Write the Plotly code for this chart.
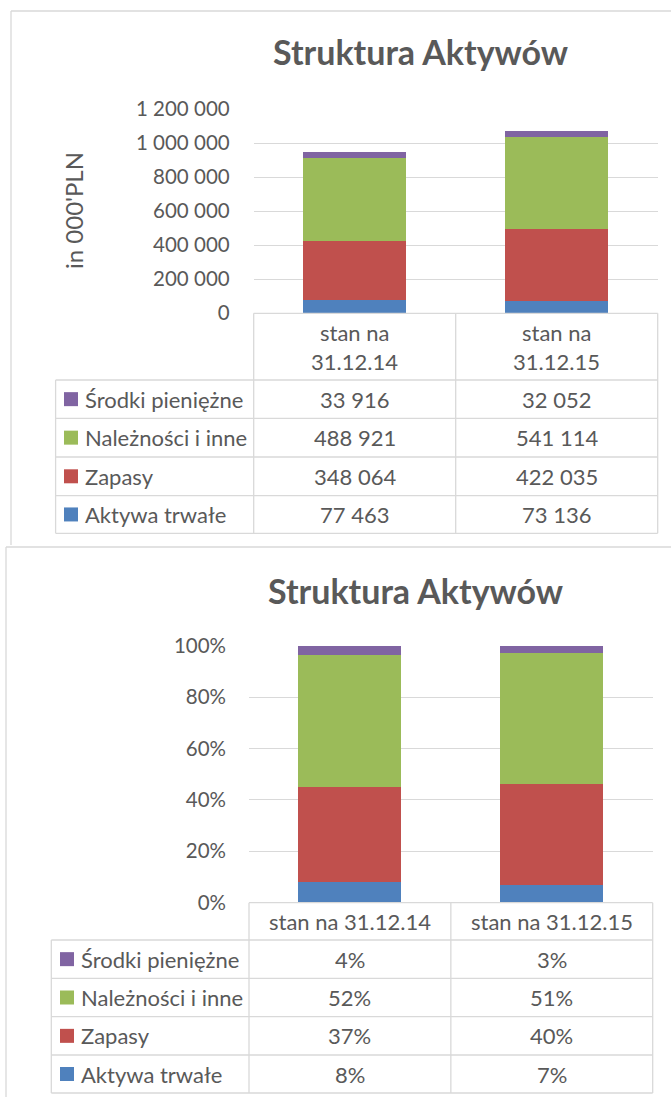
import plotly.graph_objects as go

# ---- data ----
categories = ["stan na 31.12.14", "stan na 31.12.15"]
series_names = ["Aktywa trwałe", "Zapasy", "Należności i inne", "Środki pieniężne"]
aktywa_trwale = [77463, 73136]
zapasy = [348064, 422035]
naleznosci = [488921, 541114]
srodki = [33916, 32052]
y1_ticks = [0, 200000, 400000, 600000, 800000, 1000000, 1200000]
y2_ticks = [0, 20, 40, 60, 80, 100]
title_text = "Struktura Aktywów"
y1_title = "in 000'PLN"

series_values = [aktywa_trwale, zapasy, naleznosci, srodki]
colors = ["#4F81BD", "#C0504D", "#9BBB59", "#8064A2"]

totals = [sum(s[i] for s in series_values) for i in range(len(categories))]
series_pct = [[v / t * 100 for v, t in zip(s, totals)] for s in series_values]


def fmt(v):
    return f"{v:,}".replace(",", " ")


W, H = 671, 1097
FONT = "Lato"
TXT = "#595959"
GRID = "#D9D9D9"


def px(x):
    return x / W


def py(y):
    return 1 - y / H


fig = go.Figure()
for name, vals, col in zip(series_names, series_values, colors):
    fig.add_trace(go.Bar(x=categories, y=vals, name=name, marker=dict(color=col, line=dict(width=0)),
                         xaxis="x", yaxis="y", hoverinfo="skip"))
for name, vals, col in zip(series_names, series_pct, colors):
    fig.add_trace(go.Bar(x=categories, y=vals, name=name, marker=dict(color=col, line=dict(width=0)),
                         xaxis="x2", yaxis="y2", hoverinfo="skip"))

T = dict(x0=253.7, x1=657.7, ytop=109.0, y0=313.3, lab_x0=55.6,
         rows=[380.0, 418.3, 457.0, 495.6, 533.3], sq_x=64, txt_x=83,
         hdr_lines=[332.0, 361.5], title_y=52, title_x=420)
B = dict(x0=249.0, x1=652.7, ytop=645.7, y0=902.7, lab_x0=51.3,
         rows=[940.0, 978.3, 1016.7, 1055.0, 1093.0], sq_x=60, txt_x=79,
         hdr_lines=[921.5], title_y=590, title_x=415)

tickfont = dict(family=FONT, size=20.5, color=TXT)
fig.update_layout(
    template="none",
    width=W, height=H, autosize=False,
    margin=dict(l=0, r=0, t=0, b=0, pad=0),
    paper_bgcolor="white", plot_bgcolor="white",
    showlegend=False, barmode="stack", bargap=0.49,
    font=dict(family=FONT, color=TXT),
    xaxis=dict(domain=[px(T["x0"]), px(T["x1"])], type="category", showticklabels=False, automargin=False,
               showgrid=False, zeroline=False, showline=False, anchor="y", fixedrange=True, ticks=""),
    yaxis=dict(domain=[py(T["y0"]), py(T["ytop"])], range=[0, 1200000], tickvals=y1_ticks, automargin=False,
               ticktext=[fmt(v) for v in y1_ticks], tickfont=tickfont, gridcolor=GRID, gridwidth=1, ticks="",
               zeroline=False, showline=False, anchor="x", ticklabelstandoff=23, fixedrange=True),
    xaxis2=dict(domain=[px(B["x0"]), px(B["x1"])], type="category", showticklabels=False, automargin=False,
                showgrid=False, zeroline=False, showline=False, anchor="y2", fixedrange=True, ticks=""),
    yaxis2=dict(domain=[py(B["y0"]), py(B["ytop"])], range=[0, 100], tickvals=y2_ticks, automargin=False,
                ticktext=[f"{v}%" for v in y2_ticks], tickfont=tickfont, gridcolor=GRID, gridwidth=1, ticks="",
                zeroline=False, showline=False, anchor="x2", ticklabelstandoff=22, fixedrange=True),
)

shapes = []
ann = []


def line(x0, y0, x1, y1, color=GRID, width=1.3):
    shapes.append(dict(type="line", xref="paper", yref="paper", x0=px(x0), y0=py(y0), x1=px(x1), y1=py(y1),
                       line=dict(color=color, width=width), layer="above"))


# outer chart borders
line(11, 11, 671, 11)
line(11, 11, 11, 545)
line(6, 547, 671, 547)
line(6, 547, 6, 1097)


def build_table(G, xref, values_text, two_line_header):
    xm = (G["x0"] + G["x1"]) / 2
    line(G["x0"], G["y0"], G["x1"], G["y0"])
    for xv in (G["x0"], xm, G["x1"]):
        line(xv, G["y0"], xv, G["rows"][-1])
    for yv in G["rows"]:
        line(G["lab_x0"], yv, G["x1"], yv)
    line(G["lab_x0"], G["rows"][0], G["lab_x0"], G["rows"][-1])
    for ci, cat in enumerate(categories):
        parts = [cat[:7], cat[8:]] if two_line_header else [cat]
        for part, yy in zip(parts, G["hdr_lines"]):
            ann.append(dict(text=part, xref=xref, yref="paper", x=cat, y=py(yy), showarrow=False,
                            xanchor="center", yanchor="middle", font=dict(family=FONT, size=22, color=TXT)))
    order = list(range(len(series_names)))[::-1]
    for r, si in enumerate(order):
        yc = (G["rows"][r] + G["rows"][r + 1]) / 2
        shapes.append(dict(type="rect", xref="paper", yref="paper",
                           x0=px(G["sq_x"]), x1=px(G["sq_x"] + 14), y0=py(yc - 7), y1=py(yc + 7),
                           fillcolor=colors[si], line=dict(width=0), layer="above"))
        ann.append(dict(text=series_names[si], xref="paper", yref="paper", x=px(G["txt_x"]), y=py(yc),
                        showarrow=False, xanchor="left", yanchor="middle",
                        font=dict(family=FONT, size=22, color=TXT)))
        for ci, cat in enumerate(categories):
            ann.append(dict(text=values_text[si][ci], xref=xref, yref="paper", x=cat, y=py(yc),
                            showarrow=False, xanchor="center", yanchor="middle",
                            font=dict(family=FONT, size=22, color=TXT)))
    ann.append(dict(text="<b>" + title_text + "</b>", xref="paper", yref="paper", x=px(G["title_x"]),
                    y=py(G["title_y"]), showarrow=False, xanchor="center", yanchor="middle",
                    font=dict(family=FONT, size=34, color=TXT)))


build_table(T, "x", [[fmt(v) for v in s] for s in series_values], True)
build_table(B, "x2", [[f"{round(v)}%" for v in s] for s in series_pct], False)

ann.append(dict(text=y1_title, xref="paper", yref="paper", x=px(73), y=py(211), textangle=-90,
                showarrow=False, xanchor="center", yanchor="middle", font=dict(family=FONT, size=24, color=TXT)))

fig.update_layout(shapes=shapes, annotations=ann)
fig.write_html("out.html", config={"displayModeBar": False},
               post_script="document.body.style.margin='0';document.body.style.padding='0';")
